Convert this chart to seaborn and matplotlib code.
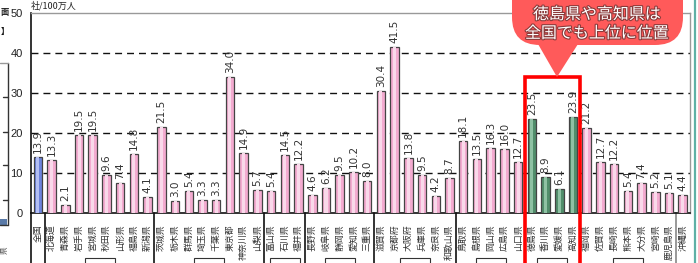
import matplotlib
matplotlib.use("Agg")
import matplotlib.pyplot as plt
import matplotlib.patches as mpatches
import matplotlib.patheffects as pe
import seaborn as sns
import pandas as pd
import numpy as np

# ---------------- data ----------------
labels = ["全国",
          "北海道", "青森県", "岩手県", "宮城県", "秋田県", "山形県", "福島県", "新潟県",
          "茨城県", "栃木県", "群馬県", "埼玉県", "千葉県", "東京都", "神奈川県", "山梨県",
          "富山県", "石川県", "福井県",
          "長野県", "岐阜県", "静岡県", "愛知県", "三重県",
          "滋賀県", "京都府", "大阪府", "兵庫県", "奈良県", "和歌山県",
          "鳥取県", "島根県", "岡山県", "広島県", "山口県",
          "徳島県", "香川県", "愛媛県", "高知県",
          "福岡県", "佐賀県", "長崎県", "熊本県", "大分県", "宮崎県", "鹿児島県",
          "沖縄県"]
values = [13.9,
          13.3, 2.1, 19.5, 19.5, 9.6, 7.4, 14.8, 4.1,
          21.5, 3.0, 5.4, 3.3, 3.3, 34.0, 14.9, 5.7,
          5.4, 14.5, 12.2,
          4.6, 6.2, 9.5, 10.2, 8.0,
          30.4, 41.5, 13.8, 9.5, 4.2, 8.7,
          18.1, 13.5, 16.3, 16.0, 12.7,
          23.5, 8.9, 6.1, 23.9,
          21.2, 12.7, 12.2, 5.4, 7.4, 5.2, 5.1,
          4.4]
kind = (["national"] + ["pref"] * 35 + ["shikoku"] * 4 + ["pref"] * 8)
# region group boundaries (index after which a separator line is drawn)
group_breaks = [0, 8, 16, 19, 24, 30, 35, 39, 46]
box_groups = [(1, 8), (9, 16), (17, 19), (20, 24), (25, 30), (31, 35), (36, 39), (40, 46)]
yticks = [0, 10, 20, 30, 40, 50]
unit_label = "社/100万人"
callout_text = "徳島県や高知県は\n全国でも上位に位置"

# ---------------- style ----------------
sns.set_theme(style="white")
plt.rcParams['font.family'] = ['Noto Sans CJK JP', 'DejaVu Sans']

main_col = {"national": "#5a78f0", "pref": "#ff9fd0", "shikoku": "#47986a"}
light_col = {"national": "#a8b8ff", "pref": "#ffd3ea", "shikoku": "#86c9a2"}

df = pd.DataFrame({"label": labels, "value": values, "kind": kind})
df["label"] = pd.Categorical(df["label"], categories=labels, ordered=True)

W, H = 698, 263
fig = plt.figure(figsize=(W / 100, H / 100), dpi=100)
ax = fig.add_axes([31 / W, 50 / H, 658.6 / W, 200 / H])

pal_main = {l: main_col[k] for l, k in zip(labels, kind)}
pal_light = {l: light_col[k] for l, k in zip(labels, kind)}

sns.barplot(data=df, x="label", y="value", hue="label", palette=pal_main,
            width=0.62, edgecolor="#444444", linewidth=0.9, legend=False, ax=ax,
            zorder=3)
sns.barplot(data=df, x="label", y="value", hue="label", palette=pal_light,
            width=0.22, linewidth=0, legend=False, ax=ax, zorder=4)

ax.set_xlim(-0.5, len(labels) - 0.5)
ax.set_ylim(0, 50)
ax.set_xlabel("")
ax.set_ylabel("")
ax.set_yticks(yticks)
ax.set_yticklabels([str(t) for t in yticks], fontsize=8, family="Liberation Sans")
ax.tick_params(axis="y", length=0, pad=6, colors="#222222")

ax.set_xticks(range(len(labels)))
ax.set_xticklabels(labels, rotation=90, fontsize=6.4, va="top", ha="center")
ax.tick_params(axis="x", length=0, pad=8, colors="#333333")
ax.set_xticks(np.arange(len(labels) - 1) + 0.5, minor=True)
ax.tick_params(axis="x", which="minor", length=3, direction="in", width=0.8,
               color="#222222")

# dashed grid
for t in yticks[1:-1]:
    ax.axhline(t, color="#111111", lw=1.0, ls=(0, (5, 3.6)), zorder=1)

for s in ["left", "bottom"]:
    ax.spines[s].set_color("#111111")
    ax.spines[s].set_linewidth(1.2)
for s in ["top", "right"]:
    ax.spines[s].set_color("#999999")
    ax.spines[s].set_linewidth(1.0)

# value labels
for i, v in enumerate(values):
    ax.text(i, v + 1.0, f"{v:.1f}", rotation=90, ha="center", va="bottom",
            fontsize=7.5, family="DejaVu Sans", color="#333333", zorder=5)

# separators below axis
ax.axvline(-0.5, ymin=-0.25, ymax=0, color="#111111", lw=1.2, clip_on=False)
for b in group_breaks:
    col = "#888888" if b == 46 else "#111111"
    ax.axvline(b + 0.5, ymin=-0.25, ymax=0, color=col, lw=1.2, clip_on=False)

# region name boxes (cut off at bottom)
for a, b in box_groups:
    c = (a + b) / 2
    ax.add_patch(mpatches.Rectangle((c - 1.1, -20), 2.2, 8.8, fill=False,
                                    edgecolor="#333333", lw=0.8, clip_on=False))

# red highlight rectangle around Shikoku
ax.add_patch(mpatches.Rectangle((35.5, -14), 4, 48, fill=False,
                                edgecolor="#ff0000", lw=2.6, clip_on=False,
                                zorder=6))

# unit label
fig.text(31 / W, 1 - 1 / H, unit_label, fontsize=6.5, ha="left", va="top",
         color="#222222")

# callout
def fx(px):
    return px / W

def fy(py):
    return 1 - py / H

callout_col = "#ff5a5a"
box = mpatches.FancyBboxPatch((fx(512), fy(45)), fx(683) - fx(512), 0.3,
                              boxstyle="round,pad=0,rounding_size=0.04",
                              transform=fig.transFigure, facecolor=callout_col,
                              edgecolor="none", zorder=10,
                              mutation_aspect=W / H)
fig.patches.append(box)
tri = mpatches.Polygon([(fx(538), fy(44)), (fx(578), fy(44)), (fx(557), fy(77))],
                       closed=True, transform=fig.transFigure,
                       facecolor=callout_col, edgecolor="none", zorder=10)
fig.patches.append(tri)
fig.text(fx(597), fy(24), callout_text, ha="center", va="center",
         fontsize=11.5, color="white", linespacing=1.15, zorder=11,
         path_effects=[pe.withStroke(linewidth=1.6, foreground="#8a3a3a")])

# partial left panel
fig.add_artist(plt.Line2D([fx(8), fx(8)], [fy(63), fy(225)], color="#333333",
                          lw=1.0, transform=fig.transFigure))
fig.add_artist(plt.Line2D([0, fx(8)], [fy(63), fy(63)], color="#999999",
                          lw=1.0, transform=fig.transFigure))
fig.add_artist(plt.Line2D([0, fx(8)], [fy(225), fy(225)], color="#333333",
                          lw=1.0, transform=fig.transFigure))
for ty in [97, 132, 165, 200]:
    fig.add_artist(plt.Line2D([fx(3), fx(8)], [fy(ty), fy(ty)], color="#333333",
                              lw=1.0, transform=fig.transFigure))
fig.patches.append(mpatches.Rectangle((0, fy(225)), fx(7), fy(219) - fy(225),
                                      transform=fig.transFigure,
                                      facecolor="#5a7aa8", edgecolor="none"))
fig.text(fx(0.5), fy(12), "面", fontsize=6, ha="left", va="center",
         fontweight="bold", color="#222222")
fig.text(fx(0.5), fy(31), "】", fontsize=6, ha="left", va="center",
         fontweight="bold", color="#111111")
fig.text(fx(0.5), fy(250), "県", fontsize=5.5, ha="left", va="center",
         rotation=90, color="#444444")

# teal outer border on right
fig.add_artist(plt.Line2D([fx(694.5), fx(694.5)], [0, 1], color="#5fb0a5",
                          lw=1.6, transform=fig.transFigure))

fig.savefig("out.png", dpi=100, facecolor="white")
